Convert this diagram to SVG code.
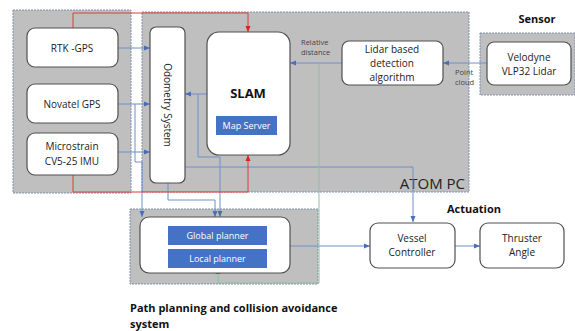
<svg xmlns="http://www.w3.org/2000/svg" width="575" height="331" viewBox="0 0 575 331">
<defs>
<style>
.grp{fill:#BFBFBF;stroke:#7F90AC;stroke-width:1;stroke-dasharray:2,1}
.node{fill:#FFFFFF;stroke:#505050;stroke-width:1.2}
.blue{fill:#4472C4}
.t{font-family:"Open Sans","Noto Sans",sans-serif;font-size:10px;fill:#222;text-anchor:middle}
.tw{font-family:"Open Sans","Noto Sans",sans-serif;font-size:9px;fill:#FFFFFF;text-anchor:middle}
.small{font-family:"Open Sans","Noto Sans",sans-serif;font-size:7.5px;fill:#444}
.title{font-family:"Open Sans","Noto Sans",sans-serif;font-size:11px;font-weight:bold;fill:#111}
.bl{fill:none;stroke:#6F8FCB;stroke-width:1}
.rd{fill:none;stroke:#E03A3A;stroke-width:1}
.gr{fill:none;stroke:#8FC0A0;stroke-width:1}
</style>
<marker id="ab" viewBox="0 0 6 6" refX="6" refY="3" markerWidth="6" markerHeight="6" orient="auto" markerUnits="userSpaceOnUse"><path d="M0,0.5 L6,3 L0,5.5 z" fill="#4A6FB8"/></marker>
<marker id="ar" viewBox="0 0 6 6" refX="6" refY="3" markerWidth="6" markerHeight="6" orient="auto" markerUnits="userSpaceOnUse"><path d="M0,0.5 L6,3 L0,5.5 z" fill="#E02020"/></marker>
<marker id="ag" viewBox="0 0 6 6" refX="6" refY="3" markerWidth="6" markerHeight="6" orient="auto" markerUnits="userSpaceOnUse"><path d="M0,0.5 L6,3 L0,5.5 z" fill="#10A050"/></marker>
</defs>
<rect width="575" height="331" fill="#FFFFFF"/>

<!-- group containers -->
<g id="sensorsGroup"><rect class="grp" x="13" y="10" width="118" height="183"/></g>
<g id="atomPC">
<rect class="grp" x="142" y="12" width="327" height="180"/>
<text x="465" y="189" font-family="'Open Sans','Noto Sans',sans-serif" font-size="15" fill="#222" text-anchor="end">ATOM PC</text>
</g>
<g id="sensorGroup">
<rect class="grp" x="480" y="33" width="95" height="62"/>
<text class="title" x="537" y="23" text-anchor="middle">Sensor</text>
</g>
<g id="pathGroup">
<rect class="grp" x="130" y="209" width="188" height="75"/>
<text class="title" x="130" y="312" font-size="12">Path planning and collision avoidance</text>
<text class="title" x="130" y="328" font-size="12">system</text>
</g>
<g id="actuationLabel"><text class="title" x="474" y="213" text-anchor="middle">Actuation</text></g>

<!-- connectors -->
<g id="connectors">
<path class="bl" d="M118,48 H150" marker-end="url(#ab)"/>
<path class="bl" d="M118,104 H150" marker-end="url(#ab)"/>
<path class="bl" d="M118,152 H150" marker-end="url(#ab)"/>
<path class="bl" d="M135,104 V162 H142 V217" marker-end="url(#ab)"/>
<path class="bl" d="M207,94 H185" marker-end="url(#ab)"/>
<path class="bl" d="M198,94 V157 H220 V217" marker-end="url(#ab)"/>
<path class="bl" d="M168,183 V200 H215 V217" marker-end="url(#ab)"/>
<path class="bl" d="M185,167 H413 V222" marker-end="url(#ab)"/>
<path class="bl" d="M342,63 H290" marker-end="url(#ab)"/>
<path class="bl" d="M487,63 H443" marker-end="url(#ab)"/>
<path class="bl" d="M290,246 H370" marker-end="url(#ab)"/>
<path class="bl" d="M455,246 H480" marker-end="url(#ab)"/>
<path class="gr" d="M319,63 V283 H218 V268"/>
<path d="M218,274 V268" stroke="#10A050" stroke-width="1" marker-end="url(#ag)"/>
<path class="rd" d="M73,28 V13 H248 V32" marker-end="url(#ar)"/>
<path class="rd" d="M73,175 V192 H248 V155" marker-end="url(#ar)"/>
<text class="small" x="301" y="45">Relative</text>
<text class="small" x="301" y="55">distance</text>
<text class="small" x="455" y="75">Point</text>
<text class="small" x="455" y="85">cloud</text>
</g>

<!-- nodes -->
<g id="rtkGps"><rect class="node" x="27" y="28" width="91" height="39" rx="8"/><text class="t" x="72" y="52">RTK -GPS</text></g>
<g id="novatelGps"><rect class="node" x="27" y="84" width="91" height="39" rx="8"/><text class="t" x="72" y="108">Novatel GPS</text></g>
<g id="microstrain"><rect class="node" x="27" y="133" width="91" height="42" rx="8"/><text class="t" x="72" y="150">Microstrain</text><text class="t" x="72" y="165">CV5-25 IMU</text></g>
<g id="odometry"><rect class="node" x="150" y="27" width="35" height="156" rx="6"/><text class="t" transform="translate(164,105) rotate(90)">Odometry System</text></g>
<g id="slam"><rect class="node" x="207" y="32" width="83" height="123" rx="12"/><text x="248" y="98" font-family="'Open Sans','Noto Sans',sans-serif" font-size="13" font-weight="bold" fill="#111" text-anchor="middle">SLAM</text>
<rect class="blue" x="216" y="116" width="61" height="19"/><text class="tw" x="246.5" y="129">Map Server</text></g>
<g id="lidarDetection"><rect class="node" x="342" y="41" width="101" height="44" rx="7"/><text class="t" x="392" y="53" font-size="10.5">Lidar based</text><text class="t" x="392" y="67" font-size="10.5">detection</text><text class="t" x="392" y="81" font-size="10.5">algorithm</text></g>
<g id="velodyne"><rect class="node" x="487" y="42" width="84" height="43" rx="7"/><text class="t" x="529" y="61">Velodyne</text><text class="t" x="529" y="75">VLP32 Lidar</text></g>
<g id="planner"><rect class="node" x="140" y="217" width="150" height="56" rx="9"/>
<rect class="blue" x="168" y="226" width="99" height="19"/><text class="tw" x="217.5" y="239">Global planner</text>
<rect class="blue" x="168" y="249" width="99" height="19"/><text class="tw" x="217.5" y="262">Local planner</text></g>
<g id="vesselController"><rect class="node" x="370" y="223" width="85" height="45" rx="8"/><text class="t" x="412" y="242">Vessel</text><text class="t" x="412" y="256">Controller</text></g>
<g id="thrusterAngle"><rect class="node" x="480" y="223" width="84" height="45" rx="8"/><text class="t" x="522" y="242">Thruster</text><text class="t" x="522" y="256">Angle</text></g>
</svg>
